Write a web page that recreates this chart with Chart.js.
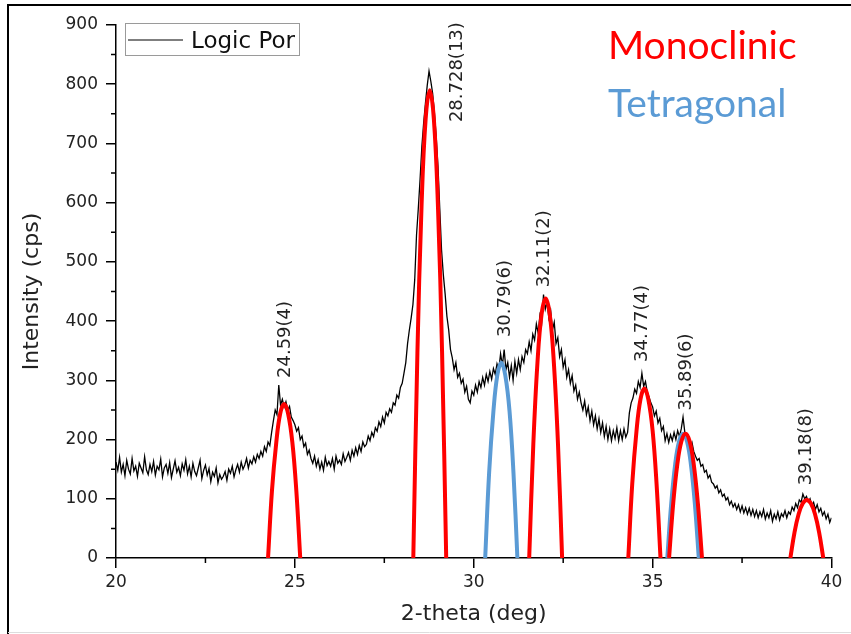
<!DOCTYPE html>
<html>
<head>
<meta charset="utf-8">
<script src="https://cdn.jsdelivr.net/npm/chart.js@4.4.0/dist/chart.umd.min.js"></script>
<style>
  body { margin: 0; background: #fff; }
  #xrd { display: block; }
</style>
</head>
<body>
<canvas id="xrd" width="851" height="634"></canvas>
<script>
// measured pattern, 2-theta 20..40 every 0.05 deg
const thetaStart = 20;
const thetaStep = 0.05;
const logicPor = [
    162, 148, 170, 145, 158, 139, 165, 150, 142, 168, 147, 155, 138, 160, 152, 144, 171, 149, 141, 158,
    146, 163, 140, 155, 149, 167, 137, 152, 158, 143, 161, 136, 150, 164, 145, 153, 139, 159, 148, 166,
    142, 155, 137, 160, 146, 139, 152, 165, 134, 148, 157, 140, 151, 129, 145, 138, 152, 127, 141, 133,
    138, 146, 131, 150, 143, 155, 137, 149, 158, 145, 162, 150, 157, 168, 152, 165, 159, 171, 162, 175,
    168, 180, 172, 188, 180, 196, 190, 212, 232, 250, 242, 292, 258, 268, 255, 264, 250, 256, 238, 232,
    225, 214, 220, 200, 206, 188, 194, 175, 182, 168, 160, 172, 155, 166, 150, 162, 148, 170, 156, 163,
    155, 168, 150, 172, 160, 165, 158, 176, 163, 170, 178, 165, 182, 172, 186, 175, 190, 180, 196, 188,
    192, 206, 198, 212, 205, 220, 214, 230, 222, 238, 228, 246, 240, 252, 246, 262, 258, 275, 270, 288,
    295, 312, 330, 362, 385, 405, 428, 470, 545, 590, 640, 695, 735, 768, 798, 822, 805, 785, 752, 712,
    662, 590, 520, 478, 446, 408, 385, 352, 338, 318, 330, 305, 312, 295, 302, 280, 290, 268, 262, 282,
    275, 292, 280, 298, 288, 305, 292, 310, 298, 315, 302, 320, 310, 328, 318, 345, 325, 352, 318, 330,
    305, 325, 300, 332, 312, 335, 318, 340, 330, 352, 345, 365, 350, 378, 368, 395, 380, 410, 398, 445,
    420, 432, 405, 418, 385, 398, 362, 372, 340, 352, 322, 335, 305, 318, 295, 308, 282, 292, 268, 280,
    262, 250, 265, 242, 255, 232, 248, 225, 240, 218, 235, 212, 228, 205, 222, 200, 218, 198, 215, 202,
    220, 198, 215, 200, 218, 204, 212, 245, 262, 270, 285, 278, 298, 288, 312, 290, 298, 280, 272, 262,
    255, 240, 248, 228, 236, 215, 222, 198, 210, 195, 208, 198, 212, 200, 215, 205, 218, 238, 212, 205,
    198, 188, 195, 180, 172, 165, 168, 155, 158, 145, 148, 135, 140, 128, 125, 118, 122, 110, 115, 104,
    108, 98, 102, 90, 96, 86, 92, 82, 90, 78, 88, 76, 85, 74, 84, 72, 82, 70, 80, 68,
    78, 70, 82, 66, 76, 68, 80, 62, 74, 66, 78, 64, 75, 70, 80, 68, 78, 74, 86, 80,
    92, 85, 98, 94, 108, 100, 104, 95, 100, 88, 94, 82, 90, 78, 84, 72, 78, 66, 74, 60,
    68
];

// fitted peaks (red = monoclinic, blue = tetragonal)
const monoX = [
    [24.25, 24.36, 24.48, 24.59, 24.70, 24.81, 24.93, 25.04, 25.15],
    [28.31, 28.425, 28.54, 28.655, 28.77, 28.885, 29.0, 29.115, 29.23],
    [31.55, 31.665, 31.78, 31.895, 32.01, 32.125, 32.24, 32.355, 32.47],
    [34.32, 34.43, 34.55, 34.66, 34.77, 34.88, 35.0, 35.11, 35.22],
    [35.46, 35.575, 35.69, 35.805, 35.92, 36.035, 36.15, 36.265, 36.38],
    [38.85, 38.965, 39.08, 39.195, 39.31, 39.425, 39.54, 39.655, 39.77]
];
const monoY = [
    [0, 114, 195, 244, 260, 244, 195, 114, 0],
    [0, 346, 593, 741, 790, 741, 593, 346, 0],
    [0, 192, 329, 411, 438, 411, 329, 192, 0],
    [0, 125, 215, 268, 286, 268, 215, 125, 0],
    [0, 92, 158, 197, 210, 197, 158, 92, 0],
    [0, 43, 74, 92, 98, 92, 74, 43, 0]
];
const tetraX = [
    [30.32, 30.43, 30.55, 30.66, 30.77, 30.88, 31.0, 31.11, 31.22],
    [35.41, 35.52, 35.63, 35.74, 35.85, 35.96, 36.07, 36.18, 36.29]
];
const tetraY = [
    [0, 144, 248, 309, 330, 309, 248, 144, 0],
    [0, 92, 158, 197, 210, 197, 158, 92, 0]
];

const peakLabels = ['24.59(4)', '28.728(13)', '30.79(6)', '32.11(2)', '34.77(4)', '35.89(6)', '39.18(8)'];

const RED = '#ff0000';
const BLUE = '#5b9bd5';

function toPoints(xs, ys) {
    return xs.map((x, i) => ({ x: x, y: ys[i] }));
}

const datasets = [];
datasets.push({
    label: 'Logic Por',
    data: logicPor.map((v, i) => ({ x: +(thetaStart + i * thetaStep).toFixed(2), y: v })),
    borderColor: '#000',
    borderWidth: 1.3,
    pointRadius: 0,
    showLine: true,
    tension: 0,
    order: 3
});
tetraX.forEach((xs, k) => {
    datasets.push({
        label: 'Tetragonal',
        data: toPoints(xs, tetraY[k]),
        borderColor: BLUE,
        borderWidth: 4,
        pointRadius: 0,
        showLine: true,
        tension: 0.4,
        order: 2
    });
});
monoX.forEach((xs, k) => {
    datasets.push({
        label: 'Monoclinic',
        data: toPoints(xs, monoY[k]),
        borderColor: RED,
        borderWidth: 4,
        pointRadius: 0,
        showLine: true,
        tension: 0.4,
        order: 1
    });
});

// label anchors in data units: x = centre line of the rotated text, y = where it starts
const labelAnchors = [
    { x: 24.73, y: 304 },
    { x: 29.54, y: 736 },
    { x: 30.88, y: 373 },
    { x: 31.97, y: 457 },
    { x: 34.71, y: 331 },
    { x: 35.94, y: 249 },
    { x: 39.30, y: 123 }
];

const extras = {
    id: 'extras',
    afterDraw(chart) {
        const ctx = chart.ctx;
        const xs = chart.scales.x;
        const ys = chart.scales.y;
        ctx.save();

        // minor ticks
        ctx.strokeStyle = '#000';
        ctx.lineWidth = 1.5;
        ctx.beginPath();
        for (let v = 50; v < 900; v += 100) {
            const py = ys.getPixelForValue(v);
            ctx.moveTo(xs.left - 5, py);
            ctx.lineTo(xs.left, py);
        }
        for (let v = 22.5; v < 40; v += 5) {
            const px = xs.getPixelForValue(v);
            ctx.moveTo(px, ys.bottom);
            ctx.lineTo(px, ys.bottom + 5);
        }
        ctx.stroke();

        // peak position labels
        ctx.fillStyle = '#222';
        ctx.font = '18px "DejaVu Sans"';
        ctx.textAlign = 'left';
        ctx.textBaseline = 'middle';
        peakLabels.forEach((t, i) => {
            const a = labelAnchors[i];
            ctx.save();
            ctx.translate(xs.getPixelForValue(a.x), ys.getPixelForValue(a.y));
            ctx.rotate(-Math.PI / 2);
            ctx.fillText(t, 0, 0);
            ctx.restore();
        });

        // legend box
        ctx.strokeStyle = '#9a9a9a';
        ctx.lineWidth = 1;
        ctx.strokeRect(125.5, 23.5, 174, 32);
        ctx.strokeStyle = '#000';
        ctx.lineWidth = 1.2;
        ctx.beginPath();
        ctx.moveTo(128, 40);
        ctx.lineTo(183, 40);
        ctx.stroke();
        ctx.save();
        ctx.beginPath();
        ctx.rect(126, 24, 173, 31);
        ctx.clip();
        ctx.fillStyle = '#111';
        ctx.font = '23px "DejaVu Sans"';
        ctx.textBaseline = 'alphabetic';
        ctx.fillText(chart.data.datasets[0].label, 191, 48);
        ctx.restore();

        // phase names
        ctx.font = '39px Lato';
        ctx.textBaseline = 'alphabetic';
        ctx.fillStyle = RED;
        ctx.fillText('Monoclinic', 608, 59);
        ctx.fillStyle = BLUE;
        ctx.fillText('Tetragonal', 608, 117);

        // screenshot frame
        ctx.strokeStyle = '#000';
        ctx.lineWidth = 2;
        ctx.beginPath();
        ctx.moveTo(8, 634);
        ctx.lineTo(8, 5);
        ctx.lineTo(851, 5);
        ctx.stroke();
        ctx.strokeStyle = '#dddddd';
        ctx.lineWidth = 1;
        ctx.beginPath();
        ctx.moveTo(8, 632.5);
        ctx.lineTo(851, 632.5);
        ctx.stroke();

        ctx.restore();
    }
};

const tickFont = { family: 'DejaVu Sans', size: 17 };
const titleFont = { family: 'DejaVu Sans', size: 22 };

new Chart('xrd', {
    type: 'scatter',
    data: { datasets: datasets },
    options: {
        responsive: false,
        animation: false,
        layout: { padding: { left: 0, top: 25, right: 19.5, bottom: 0 } },
        plugins: {
            legend: { display: false },
            tooltip: { enabled: false }
        },
        scales: {
            x: {
                type: 'linear',
                min: 20,
                max: 40,
                ticks: { stepSize: 5, color: '#222', font: tickFont, padding: 4, maxRotation: 0 },
                grid: { drawOnChartArea: false, tickLength: 10, color: '#000', lineWidth: 1.5 },
                border: { color: '#000', width: 1.5 },
                title: { display: true, text: '2-theta (deg)', color: '#222', font: titleFont, padding: { top: 0, bottom: 7 } },
                afterFit(scale) { scale.height = 76; }
            },
            y: {
                min: 0,
                max: 900,
                ticks: { stepSize: 100, color: '#222', font: tickFont, padding: 8 },
                grid: { drawOnChartArea: false, tickLength: 10, color: '#000', lineWidth: 1.5 },
                border: { color: '#000', width: 1.5 },
                title: { display: true, text: 'Intensity (cps)', color: '#222', font: titleFont, padding: { top: 19, bottom: 0 } },
                afterFit(scale) { scale.width = 116; }
            }
        }
    },
    plugins: [extras]
});
</script>
</body>
</html>
